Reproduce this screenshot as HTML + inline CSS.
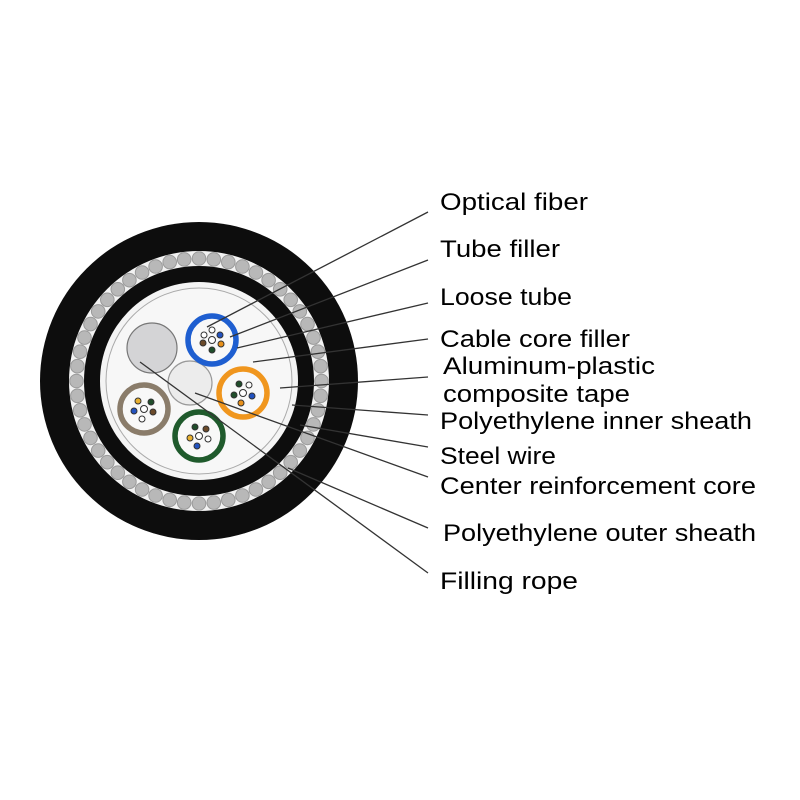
<!DOCTYPE html>
<html><head><style>
html,body{margin:0;padding:0;background:#fff;}
svg{display:block}
text{font-family:"Liberation Sans",sans-serif;font-size:24px;fill:#000;}
</style></head><body>
<svg width="800" height="800" viewBox="0 0 800 800" xmlns="http://www.w3.org/2000/svg">
<circle cx="199" cy="381" r="159" fill="#0d0d0d"/>
<circle cx="199" cy="381" r="130" fill="#f2f2f2"/>
<g id="wires" fill="#b8b8b8" stroke="#9a9a9a" stroke-width="1"></g>
<circle cx="199" cy="381" r="115" fill="#0d0d0d"/>
<circle cx="199" cy="381" r="99" fill="#f4f4f4"/>
<circle cx="199" cy="381" r="93" fill="#f7f7f7" stroke="#aaa" stroke-width="1"/>
<circle cx="152" cy="348" r="25" fill="#d4d4d6" stroke="#777" stroke-width="1.2"/>
<circle cx="190" cy="383" r="22" fill="#ececec" stroke="#999" stroke-width="1.2"/>
<g stroke-width="5.5" fill="#f8f8f8">
<circle cx="212" cy="340" r="24" stroke="#1e5ed0"/>
<circle cx="243" cy="393" r="24" stroke="#f0961e"/>
<circle cx="144" cy="409" r="24" stroke="#8a7c6a"/>
<circle cx="199" cy="436" r="24" stroke="#1f5a2c"/>
</g>
<g stroke="#333" stroke-width="1">
<g transform="translate(212,340)"><circle r="3.5" fill="#fff"/><circle cx="-8" cy="-5" r="3" fill="#fff"/><circle cx="8" cy="-5" r="3" fill="#2252c0"/><circle cx="-9" cy="3" r="3" fill="#6b4a2a"/><circle cx="9" cy="4" r="3" fill="#e8901a"/><circle cx="0" cy="10" r="3" fill="#1f4d2a"/><circle cx="0" cy="-10" r="3" fill="#fff"/></g>
<g transform="translate(243,393)"><circle r="3.5" fill="#fff"/><circle cx="-4" cy="-9" r="3" fill="#1f4d2a"/><circle cx="6" cy="-8" r="3" fill="#fff"/><circle cx="-9" cy="2" r="3" fill="#1f4d2a"/><circle cx="9" cy="3" r="3" fill="#2252c0"/><circle cx="-2" cy="10" r="3" fill="#e8901a"/></g>
<g transform="translate(144,409)"><circle r="3.5" fill="#fff"/><circle cx="-6" cy="-8" r="3" fill="#e8b030"/><circle cx="7" cy="-7" r="3" fill="#1f4d2a"/><circle cx="-10" cy="2" r="3" fill="#2252c0"/><circle cx="9" cy="3" r="3" fill="#6b4a2a"/><circle cx="-2" cy="10" r="3" fill="#fff"/></g>
<g transform="translate(199,436)"><circle r="3.5" fill="#fff"/><circle cx="-4" cy="-9" r="3" fill="#1f4d2a"/><circle cx="7" cy="-7" r="3" fill="#6b4a2a"/><circle cx="-9" cy="2" r="3" fill="#e8b030"/><circle cx="9" cy="3" r="3" fill="#fff"/><circle cx="-2" cy="10" r="3" fill="#2252c0"/></g>
</g>
<g stroke="#333" stroke-width="1.3" fill="none">
<line x1="207" y1="327" x2="428" y2="212"/>
<line x1="230" y1="337" x2="428" y2="260"/>
<line x1="237" y1="348" x2="428" y2="303"/>
<line x1="253" y1="362" x2="428" y2="339"/>
<line x1="280" y1="388" x2="428" y2="377"/>
<line x1="292" y1="405" x2="428" y2="415"/>
<line x1="300" y1="425" x2="428" y2="447"/>
<line x1="195" y1="393" x2="428" y2="477"/>
<line x1="288" y1="468" x2="428" y2="528"/>
<line x1="140" y1="362" x2="428" y2="573"/>
</g>
<g lengthAdjust="spacing">
<text x="440" y="210" textLength="148">Optical fiber</text>
<text x="440" y="257" textLength="120">Tube filler</text>
<text x="440" y="305" textLength="132">Loose tube</text>
<text x="440" y="347" textLength="190">Cable core filler</text>
<text x="443" y="374" textLength="212">Aluminum-plastic</text>
<text x="443" y="402" textLength="187">composite tape</text>
<text x="440" y="429" textLength="312">Polyethylene inner sheath</text>
<text x="440" y="464" textLength="116">Steel wire</text>
<text x="440" y="494" textLength="316">Center reinforcement core</text>
<text x="443" y="541" textLength="313">Polyethylene outer sheath</text>
<text x="440" y="589" textLength="138">Filling rope</text>
</g>
</svg>
<script>
var g=document.getElementById('wires'),n=52,s='';
for(var i=0;i<n;i++){var a=i*2*Math.PI/n;s+='<circle cx="'+(199+122.5*Math.cos(a)).toFixed(1)+'" cy="'+(381+122.5*Math.sin(a)).toFixed(1)+'" r="6.8"/>';}
g.innerHTML=s;
document.querySelectorAll('text').forEach(function(t){t.setAttribute('lengthAdjust','spacingAndGlyphs');});
</script>
</body></html>
